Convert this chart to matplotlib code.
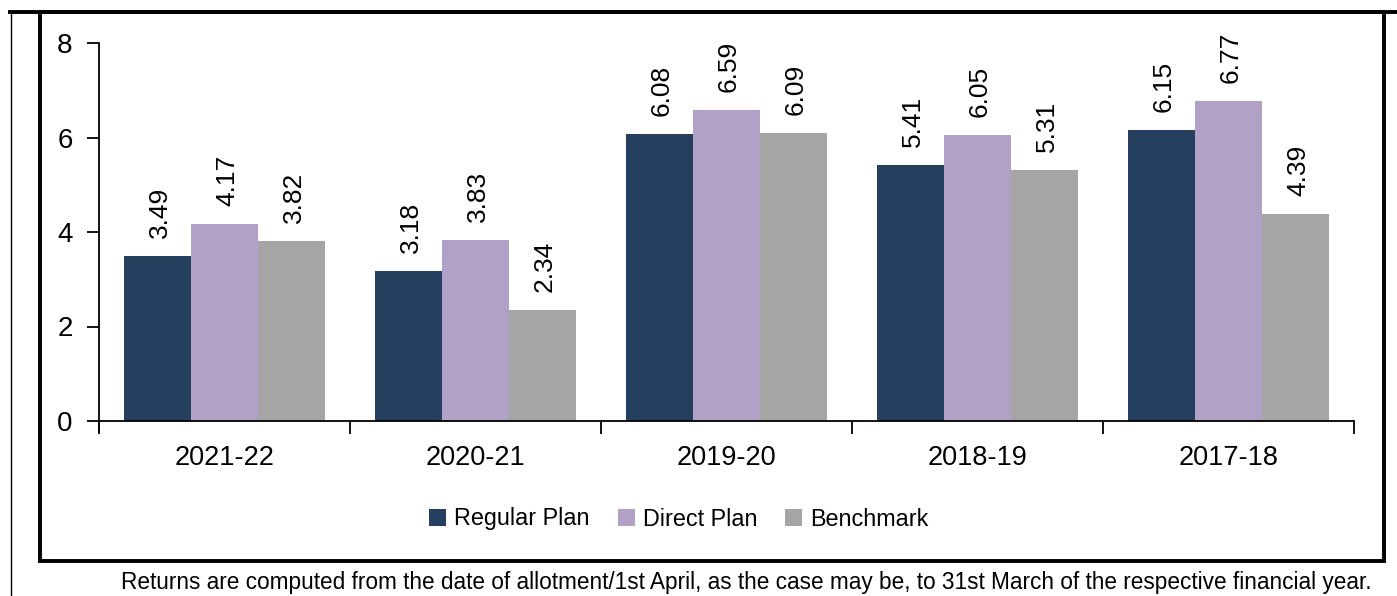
import matplotlib
matplotlib.use("Agg")
import matplotlib.pyplot as plt
import numpy as np
from matplotlib.lines import Line2D
from matplotlib.patches import Rectangle
from matplotlib import font_manager

categories = ["2021-22", "2020-21", "2019-20", "2018-19", "2017-18"]
regular_plan = [3.49, 3.18, 6.08, 5.41, 6.15]
direct_plan = [4.17, 3.83, 6.59, 6.05, 6.77]
benchmark = [3.82, 2.34, 6.09, 5.31, 4.39]
series_names = ["Regular Plan", "Direct Plan", "Benchmark"]
colors = ["#253F5F", "#B1A1C7", "#A5A5A5"]
y_ticks = [0, 2, 4, 6, 8]
footnote = ("Returns are computed from the date of allotment/1st April, as the case may be, "
            "to 31st March of the respective financial year.")

names = {f.name for f in font_manager.fontManager.ttflist}
narrow = "Liberation Sans Narrow" if "Liberation Sans Narrow" in names else "Liberation Sans"
plt.rcParams["font.family"] = [narrow, "DejaVu Sans"]

W, H = 1397, 596
fig = plt.figure(figsize=(W / 100, H / 100), dpi=100)
ax = fig.add_axes([99 / W, 1 - 421 / H, (1354 - 99) / W, (421 - 43) / H])

x = np.arange(len(categories))
bw = 0.8 / 3
for i, (vals, name, c) in enumerate(zip([regular_plan, direct_plan, benchmark], series_names, colors)):
    pos = x + (i - 1) * bw
    bars = ax.bar(pos, vals, bw, color=c, label=name, zorder=2)
    for b, v in zip(bars, vals):
        ax.text(b.get_x() + b.get_width() / 2 + 0.01, v + 0.38, f"{v:.2f}", rotation=90,
                ha="center", va="bottom", fontsize=19, color="black")

ax.set_xlim(-0.5, len(categories) - 0.5)
ax.set_ylim(0, 8)
ax.set_yticks(y_ticks)
ax.set_yticklabels([str(t) for t in y_ticks], fontsize=20)
ax.set_xticks(x)
ax.set_xticklabels(categories, fontsize=19.5)
ax.tick_params(axis="x", length=0, pad=17)
ax.set_xticks(np.arange(len(categories) + 1) - 0.5, minor=True)
ax.tick_params(axis="x", which="minor", length=9, width=1.3, direction="out")
ax.tick_params(axis="y", length=9, width=1.3, direction="out", pad=10)
for s in ["top", "right"]:
    ax.spines[s].set_visible(False)
ax.spines["left"].set_linewidth(1.3)
ax.spines["bottom"].set_linewidth(1.3)
ax.spines["left"].set_bounds(-0.2, 8)

leg = fig.legend(loc="center", bbox_to_anchor=(679 / W, 1 - 519 / H), ncol=3, frameon=False,
                 fontsize=16.8, handlelength=0.72, handleheight=0.72, handletextpad=0.35,
                 columnspacing=1.2)

# outer frame
fig.add_artist(Rectangle((39.5 / W, 1 - 561 / H), (1383.5 - 39.5) / W, (561 - 11.5) / H,
                         transform=fig.transFigure, fill=False, lw=2.8, ec="black"))
fig.add_artist(Line2D([10 / W, 1], [1 - 11.5 / H, 1 - 11.5 / H], transform=fig.transFigure,
                      color="black", lw=2.8))
fig.add_artist(Line2D([11 / W, 11 / W], [0, 1 - 11.5 / H], transform=fig.transFigure,
                      color="black", lw=1.0))

fig.text(746 / W, 1 - 583 / H, footnote, ha="center", va="center", fontsize=16.3,
         family=["Liberation Sans", "DejaVu Sans"])

fig.savefig("out.png", dpi=100)
